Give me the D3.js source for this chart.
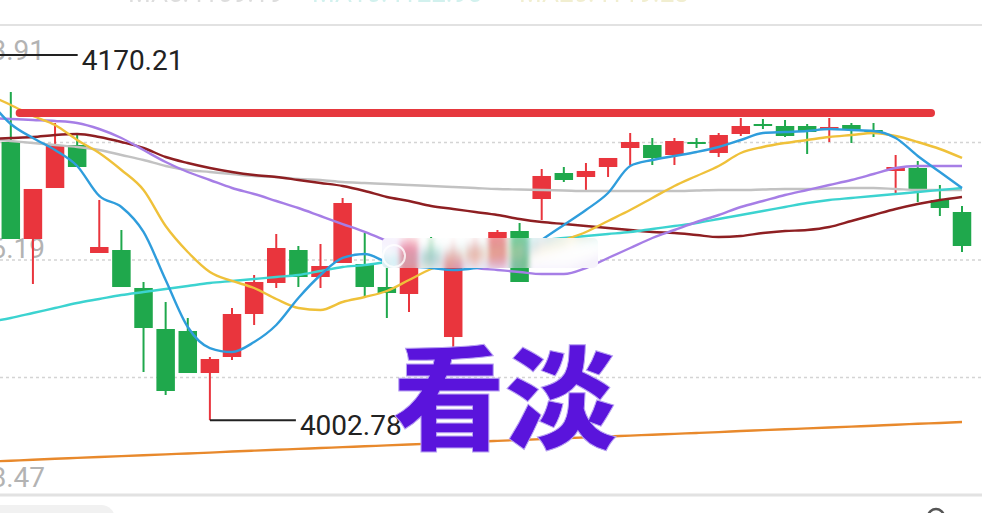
<!DOCTYPE html>
<html><head><meta charset="utf-8">
<script src="https://cdn.jsdelivr.net/npm/d3@7"></script>
<style>html,body{margin:0;padding:0;background:#fff;overflow:hidden}</style>
</head><body>
<svg id="chart" width="982" height="513"></svg>
<script>
// ---------- data (index -1 .. 43) ----------
const positions = d3.range(-1, 44);
const openP  = [4126.0,4130.28,4085.82,4109.19,4128.90,4079.40,4080.77,4063.36,4044.56,4043.65,4024.39,4031.73,4051.44,4065.65,4080.77,4068.40,4074.82,4074.36,4063.81,4060.61,4079.86,4040.89,4077.11,4073.44,4089.48,4104.15,4116.07,4114.24,4118.82,4127.53,4128.90,4124.32,4130.28,4125.24,4133.95,4138.53,4137.61,4137.61,4136.24,4138.07,4135.78,4116.99,4118.36,4103.69,4098.19];
const closeP = [4131.0,4085.82,4108.74,4128.90,4118.82,4082.15,4063.81,4045.02,4016.14,4024.39,4030.81,4051.44,4066.11,4081.69,4068.40,4073.44,4102.32,4063.81,4061.06,4083.98,4075.27,4078.48,4081.69,4089.03,4066.11,4114.70,4112.86,4116.99,4122.95,4130.28,4122.95,4130.74,4129.36,4133.49,4137.61,4137.61,4133.03,4134.86,4137.16,4135.78,4134.86,4118.82,4108.74,4100.03,4082.61];
const highP  = [4170.21,4153.20,4108.74,4138.99,4133.49,4103.69,4089.94,4066.11,4056.94,4049.60,4031.73,4054.19,4069.31,4088.11,4082.61,4083.52,4104.61,4088.57,4072.52,4085.36,4086.73,4083.07,4085.36,4089.94,4093.15,4117.90,4118.82,4120.65,4122.95,4134.40,4132.11,4132.11,4132.11,4134.40,4141.28,4140.82,4140.36,4138.53,4141.28,4138.99,4138.99,4124.32,4121.57,4110.57,4100.94];
const lowP   = [4118.5,4085.82,4065.19,4109.19,4118.82,4079.40,4063.81,4024.85,4014.31,4024.39,4002.78,4030.35,4046.40,4063.36,4063.81,4063.36,4074.82,4058.77,4049.60,4052.35,4073.44,4030.35,4073.44,4072.52,4066.11,4094.53,4111.94,4108.28,4114.24,4119.74,4119.74,4119.74,4127.53,4123.40,4133.03,4136.24,4132.57,4124.78,4130.28,4129.82,4132.57,4105.99,4102.78,4096.36,4079.86];

const maBlue   = [4149.53,4138.53,4132.11,4126.61,4119.28,4105.53,4100.49,4089.03,4067.02,4045.48,4035.85,4034.02,4038.60,4046.40,4058.77,4069.31,4077.11,4078.94,4075.27,4073.44,4072.52,4071.61,4072.52,4074.36,4078.03,4085.36,4092.24,4099.11,4106.90,4119.28,4122.03,4123.86,4125.70,4127.99,4131.20,4134.40,4134.86,4135.32,4136.24,4135.78,4135.32,4132.11,4123.86,4116.53,4109.19];
const maYellow = [4151.82,4147.24,4142.20,4138.07,4131.20,4125.24,4117.44,4108.28,4091.77,4079.86,4070.69,4066.57,4063.36,4058.31,4054.19,4053.27,4056.94,4059.23,4061.98,4067.02,4072.06,4075.27,4077.11,4078.48,4079.86,4082.15,4085.36,4089.03,4094.07,4099.11,4104.61,4110.11,4114.70,4119.28,4125.24,4127.99,4129.82,4131.20,4132.57,4133.49,4134.40,4133.03,4130.28,4127.07,4122.95];
const maPurple = [4141.28,4140.82,4140.36,4139.91,4138.99,4136.24,4132.11,4126.61,4121.11,4116.53,4112.86,4109.19,4106.44,4103.23,4100.03,4096.36,4092.69,4089.03,4084.90,4080.77,4077.11,4074.36,4072.52,4071.61,4070.69,4069.77,4069.77,4072.52,4077.11,4081.69,4086.27,4089.94,4093.61,4096.82,4100.49,4103.23,4105.99,4108.28,4110.57,4112.86,4115.61,4118.36,4119.28,4119.28,4119.28];
const maMaroon = [4131.65,4132.11,4132.57,4133.49,4133.95,4132.57,4130.28,4127.53,4123.40,4120.65,4118.36,4116.53,4115.15,4114.24,4112.86,4111.49,4110.11,4107.82,4105.07,4103.23,4100.94,4099.57,4098.19,4096.82,4094.99,4093.61,4092.69,4091.77,4090.86,4089.94,4089.03,4088.57,4087.65,4086.73,4087.19,4088.57,4089.48,4089.94,4091.32,4094.07,4096.82,4099.57,4101.86,4103.69,4105.07];
const maGrey   = [4131.65,4130.74,4129.82,4128.90,4127.99,4126.61,4124.32,4122.03,4119.28,4117.44,4116.53,4115.61,4114.70,4114.24,4113.32,4112.86,4111.94,4111.49,4111.03,4110.57,4110.11,4109.65,4109.19,4108.74,4108.51,4108.28,4108.05,4107.82,4107.82,4107.82,4107.82,4107.82,4108.05,4108.28,4108.28,4108.51,4108.74,4108.74,4108.97,4109.19,4109.19,4108.74,4108.28,4108.28,4108.28];
const maCyan   = [4047.77,4049.60,4051.89,4054.19,4056.48,4058.31,4060.14,4061.52,4062.89,4064.27,4065.65,4066.57,4067.48,4068.40,4069.31,4071.15,4072.98,4073.90,4075.27,4076.65,4078.03,4079.40,4080.77,4082.15,4083.98,4085.36,4086.27,4087.19,4088.11,4089.03,4090.40,4091.77,4093.15,4094.99,4096.82,4098.65,4100.49,4102.32,4103.69,4104.61,4105.53,4106.44,4107.36,4108.28,4109.19];
const maOrange = [3983.8,3984.2,3984.6,3985.1,3985.5,3985.9,3986.3,3986.7,3987.1,3987.5,3987.9,3988.4,3988.8,3989.2,3989.6,3990.0,3990.4,3990.8,3991.2,3991.6,3992.0,3992.4,3992.9,3993.3,3993.7,3994.1,3994.5,3994.9,3995.3,3995.7,3996.1,3996.5,3996.9,3997.3,3997.8,3998.2,3998.6,3999.0,3999.4,3999.8,4000.2,4000.7,4001.1,4001.5,4001.9];

const gridValues = [4183.91, 4130.05, 4076.19, 4022.33, 3968.47];
const axisLabels = ["4183.91", "4076.19", "3968.47"];
const resistance = {price: 4143.57, from: 0.4, to: 41.6};
const annotationText = "看淡";

// ---------- setup ----------
const RED = "#e9353d", GREEN = "#1fa84c";
const svg = d3.select("#chart");
const x = d3.scaleLinear().domain([0, 43]).range([10.8, 962]);
const y = d3.scaleLinear().domain([3968.47, 4183.91]).range([495, 25]);

const defs = svg.append("defs");
defs.append("clipPath").attr("id", "wmClip").append("rect")
  .attr("x", 382).attr("y", 238).attr("width", 216).attr("height", 30).attr("rx", 5);
const f = defs.append("filter").attr("id", "wmBlur").attr("x", "-10%").attr("y", "-10%").attr("width", "120%").attr("height", "120%");
f.append("feGaussianBlur").attr("stdDeviation", "2.5 7");

const plot = svg.append("g").attr("id", "plot");

// grid
plot.selectAll("line.grid").data(gridValues).join("line")
  .attr("x1", 0).attr("x2", 982)
  .attr("y1", d => y(d)).attr("y2", d => y(d))
  .attr("stroke", (d, i) => (i === 0 || i === 4) ? "#e2e2e2" : "#d4d4d4")
  .attr("stroke-width", (d, i) => i === 0 ? 2 : (i === 4 ? 3 : 1.3))
  .attr("stroke-dasharray", (d, i) => (i === 0 || i === 4) ? null : "3,3");

// axis labels
const labelPos = [{v: gridValues[0], dy: 35}, {v: gridValues[2], dy: -2}, {v: gridValues[4], dy: -8}];
plot.selectAll("text.axis").data(labelPos).join("text")
  .attr("x", 45).attr("y", d => y(d.v) + d.dy)
  .attr("text-anchor", "end")
  .attr("font-family", "Roboto, sans-serif").attr("font-size", 28)
  .attr("fill", "#b3b3b3")
  .text((d, i) => axisLabels[i]);

// candles
const candles = positions.map((p, k) => ({i: p, o: openP[k], c: closeP[k], h: highP[k], l: lowP[k]}));
const isUp = d => d.c >= d.o;
const cg = plot.append("g");
cg.selectAll("line").data(candles).join("line")
  .attr("x1", d => x(d.i)).attr("x2", d => x(d.i))
  .attr("y1", d => y(d.h)).attr("y2", d => y(d.l))
  .attr("stroke", d => isUp(d) ? RED : GREEN).attr("stroke-width", 2);
const bw = 18.5;
cg.selectAll("rect").data(candles).join("rect")
  .attr("x", d => x(d.i) - bw / 2).attr("width", bw)
  .attr("y", d => y(Math.max(d.o, d.c)))
  .attr("height", d => Math.max(2, Math.abs(y(d.o) - y(d.c))))
  .attr("fill", d => isUp(d) ? RED : GREEN);

// moving averages
const series = [
  {v: maOrange, color: "#e8892c"},
  {v: maGrey, color: "#c2c2c2"},
  {v: maMaroon, color: "#8e1f22"},
  {v: maCyan, color: "#3cd3d0"},
  {v: maPurple, color: "#a67ee6"},
  {v: maYellow, color: "#efc13a"},
  {v: maBlue, color: "#2f9ddc"}
];
const line = d3.line().x((d, k) => x(positions[k])).y(d => y(d)).curve(d3.curveMonotoneX);
plot.selectAll("path.ma").data(series).join("path")
  .attr("d", d => line(d.v)).attr("fill", "none")
  .attr("stroke", d => d.color).attr("stroke-width", 2.4);

// resistance line
plot.append("line")
  .attr("x1", x(resistance.from)).attr("x2", x(resistance.to))
  .attr("y1", y(resistance.price)).attr("y2", y(resistance.price))
  .attr("stroke", "#e6383e").attr("stroke-width", 8).attr("stroke-linecap", "round");

// max / min markers
const hiK = d3.maxIndex(highP), loK = d3.minIndex(lowP);
const marks = [
  {px: x(positions[hiK]), v: highP[hiK], len: 89},
  {px: x(positions[loK]), v: lowP[loK], len: 86}
];
const mg = plot.append("g");
mg.selectAll("line").data(marks).join("line")
  .attr("x1", d => d.px).attr("x2", d => d.px + d.len)
  .attr("y1", d => y(d.v)).attr("y2", d => y(d.v))
  .attr("stroke", "#222").attr("stroke-width", 2);
mg.selectAll("text").data(marks).join("text")
  .attr("x", d => d.px + d.len + 4).attr("y", d => y(d.v) + 15)
  .attr("font-family", "Roboto, sans-serif").attr("font-size", 28)
  .attr("fill", "#222").text(d => d.v.toFixed(2));

// top legend (mostly cut off by the frame)
const legend = [
  {x: 128, t: "MA5:" + maBlue[44].toFixed(2), c: "#a0a0a0"},
  {x: 312, t: "MA10:" + maYellow[44].toFixed(2), c: "#7fd8cf"},
  {x: 519, t: "MA20:" + maPurple[44].toFixed(2), c: "#d9cf7a"}
];
svg.selectAll("text.lg").data(legend).join("text")
  .attr("x", d => d.x).attr("y", 1.5)
  .attr("font-family", "Roboto, sans-serif").attr("font-size", 26)
  .attr("fill", d => d.c).attr("opacity", 0.35).text(d => d.t);

// blurred watermark strip
const wm = svg.append("g").attr("clip-path", "url(#wmClip)");
wm.append("rect").attr("x", 370).attr("y", 230).attr("width", 240).attr("height", 50).attr("fill", "#fff");
wm.append("use").attr("href", "#plot").attr("filter", "url(#wmBlur)");
wm.append("rect").attr("x", 370).attr("y", 230).attr("width", 240).attr("height", 50).attr("fill", "#fff").attr("opacity", 0.3);
svg.append("circle").attr("cx", 394).attr("cy", 256).attr("r", 11)
  .attr("fill", "none").attr("stroke", "#fff").attr("stroke-width", 2).attr("opacity", 0.8);

// bottom UI fragments
svg.append("rect").attr("x", -20).attr("y", 505).attr("width", 135).attr("height", 30).attr("rx", 14).attr("fill", "#f1f1f1");
svg.append("circle").attr("cx", 936).attr("cy", 517).attr("r", 8).attr("fill", "none").attr("stroke", "#555").attr("stroke-width", 2.5);

// big annotation
svg.append("text")
  .attr("x", 393).attr("y", 441)
  .attr("font-family", "'Noto Sans CJK SC', sans-serif").attr("font-weight", 900)
  .attr("font-size", 112).attr("fill", "#5a14dc")
  .attr("stroke", "#b9a3f2").attr("stroke-width", 1)
  .text(annotationText);
</script>
</body></html>
